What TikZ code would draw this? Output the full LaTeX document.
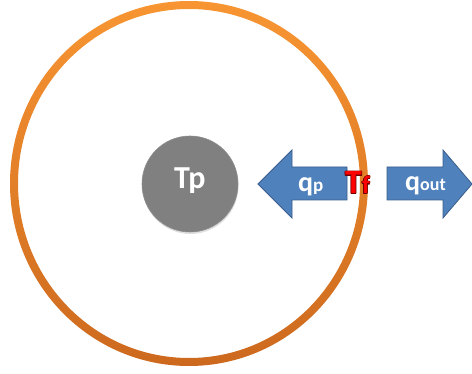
\documentclass[tikz,border=0pt]{standalone}
\usepackage{fontspec}
\usepackage[copies]{contour}
\setmainfont{Carlito}
\definecolor{ringtop}{RGB}{248,149,50}
\definecolor{ringbot}{RGB}{204,105,30}
\definecolor{coregray}{RGB}{128,128,128}
\definecolor{flowblue}{RGB}{79,129,189}
\definecolor{flowedge}{RGB}{56,93,138}
\definecolor{tfred}{RGB}{255,0,0}
\definecolor{tfedge}{RGB}{110,0,0}
\contourlength{0.5pt}
\tikzset{
  flowarrow/.style={fill=flowblue, draw=flowedge, line width=0.8pt, line join=miter},
  lbl/.style={inner sep=0pt, anchor=base west},
}
\begin{document}
\begin{tikzpicture}[x=1pt, y=-1pt]
    \useasboundingbox (0,0) rectangle (472,374);
    % droplet film: orange ring around the particle
    \shade[top color=ringtop, bottom color=ringbot, even odd rule]
      (189,183.5) ellipse (179 and 182.5)
      (189,183.5) ellipse (171 and 174.5);
    % particle core
    \fill[black!25, opacity=0.5] (190.5,186) circle (48);
    \node[circle, fill=coregray, draw=black!45, line width=0.6pt,
          minimum size=96pt, inner sep=0pt] (core) at (190,184) {};
    \node[lbl, text=white, font=\fontsize{32}{32}\selectfont\bfseries] (tp) at (174,189) {Tp};
    % heat flux into the particle
    \draw[flowarrow] (258,184) -- (292,150) -- (292,167) -- (347,167)
      -- (347,200) -- (292,200) -- (292,218) -- cycle;
    \node[lbl, text=white, font=\fontsize{28}{28}\selectfont\bfseries] (qp) at (298,192)
      {q\fontsize{19}{19}\selectfont p};
    % heat flux out of the film
    \draw[flowarrow] (387,167) -- (443,167) -- (443,150) -- (472,184)
      -- (443,218) -- (443,200) -- (387,200) -- cycle;
    \node[lbl, text=white, font=\fontsize{28}{28}\selectfont\bfseries] (qout) at (405,191)
      {q\fontsize{18}{18}\selectfont out};
    % film temperature
    \node[lbl, text=tfred, font=\fontsize{34}{34}\selectfont\bfseries] (tf) at (345,194)
      {\contour{tfedge}{T\fontsize{25}{25}\selectfont f}};
\end{tikzpicture}
\end{document}
